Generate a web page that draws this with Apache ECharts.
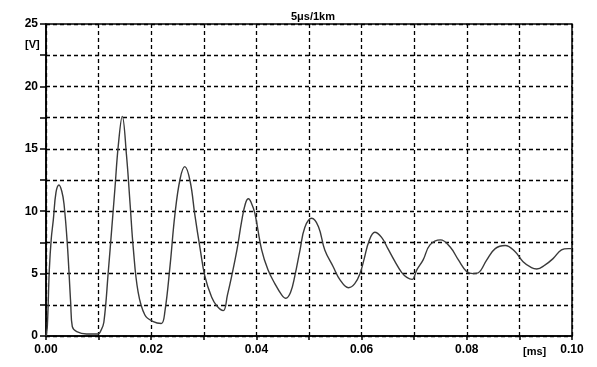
<!DOCTYPE html>
<html>
<head>
<meta charset="utf-8">
<script src="https://cdn.jsdelivr.net/npm/echarts@6/dist/echarts.min.js"></script>
<style>
html,body{margin:0;padding:0;background:#fff;}
#chart{width:597px;height:367px;}
</style>
</head>
<body>
<div id="chart"></div>
<script>
// time in microseconds (converted to ms for the axis)
var timeUs = [0,0.25,0.63,1.0,1.39,1.9,2.47,3.0,3.42,4.05,4.7,5.0,5.84,7.7,9.9,10.4,11.0,11.85,12.5,13.1,13.75,14.5,
  15.3,16.0,16.6,17.5,18.8,20.4,21.9,22.6,23.6,24.5,25.5,26.4,27.4,28.3,29.3,30.2,31.5,32.5,33.7,34.5,35.3,36.3,37.2,37.9,38.5,
  39.0,39.7,41.0,42.2,43.5,44.8,45.6,46.5,47.3,48.3,49.2,50.5,51.8,53.0,54.6,55.9,57.5,58.7,59.7,60.5,61.4,62.5,63.8,65.0,66.3,
  67.6,68.6,69.6,70.5,71.7,73.0,75.0,76.8,78.4,80.0,81.2,82.2,83.8,85.4,87.3,89.2,90.7,92.3,93.3,94.9,96.4,98.0,99.3,100];
var voltage = [0,0.75,5.3,7.8,9.3,11.5,12.1,11.6,10.6,7.4,2.6,0.75,0.35,0.16,0.16,0.4,1.1,5.2,8.6,11.8,15.3,17.6,
  14.5,10.5,7.0,3.55,1.68,1.15,1.0,1.95,5.7,9.7,12.6,13.57,12.4,9.7,7.0,4.8,3.1,2.4,2.03,3.3,4.8,6.9,9.2,10.6,11.0,
  10.7,9.85,6.9,5.3,4.2,3.3,3.02,3.5,4.8,6.9,8.7,9.43,8.76,6.9,5.55,4.5,3.87,4.2,5.0,6.2,7.6,8.31,7.9,7.0,6.0,
  5.1,4.7,4.54,5.3,6.1,7.3,7.7,7.15,6.1,5.15,5.0,5.07,6.1,7.0,7.25,6.75,5.95,5.47,5.37,5.7,6.2,6.9,7.0,7.0];
var titleText = '5μs/1km';
var yUnit = '[V]';
var xUnit = '[ms]';

var seriesData = timeUs.map(function(t, i){ return [t/1000, voltage[i]]; });
var font = 'Liberation Sans, Arial, sans-serif';
var chart = echarts.init(document.getElementById('chart'), null, {renderer:'canvas'});
chart.setOption({
  animation:false,
  backgroundColor:'#fff',
  title:{text:titleText, left:308, top:6, textAlign:'center',
    textStyle:{fontFamily:font, fontSize:11, fontWeight:'bold', color:'#000'}},
  grid:{left:46, right:25, top:24, bottom:31, show:true, borderColor:'#000', borderWidth:1.5, backgroundColor:'transparent'},
  xAxis:{type:'value', min:0, max:0.1, interval:0.01,
    axisLine:{show:true, onZero:false, lineStyle:{color:'#000', width:1.5}},
    axisTick:{show:true, length:4, inside:false, lineStyle:{color:'#000', width:1.5}},
    axisLabel:{margin:8, fontFamily:font, fontSize:12, fontWeight:'bold', color:'#000',
      showMaxLabel:true, showMinLabel:true,
      formatter:function(v){ var k=Math.round(v*100); return k%2===0 ? v.toFixed(2) : ''; }},
    splitLine:{show:true, lineStyle:{color:'#000', width:1.3, type:[4,3]}}
  },
  yAxis:{type:'value', min:0, max:25, interval:2.5,
    axisLine:{show:true, lineStyle:{color:'#000', width:1.5}},
    axisTick:{show:true, length:6, lineStyle:{color:'#000', width:1.5}},
    axisLabel:{margin:8, fontFamily:font, fontSize:12, fontWeight:'bold', color:'#000',
      formatter:function(v){ return (Math.round(v*10)%50===0) ? String(v) : ''; }},
    splitLine:{show:true, lineStyle:{color:'#000', width:1.3, type:[4,3]}}
  },
  graphic:[
    {type:'text', left:25, top:39, style:{text:yUnit, fontFamily:font, fontSize:11, fontWeight:'bold', fill:'#000'}},
    {type:'text', left:523, top:346, style:{text:xUnit, fontFamily:font, fontSize:11, fontWeight:'bold', fill:'#000'}}
  ],
  series:[{
    type:'line', data:seriesData, showSymbol:false, smooth:0.4,
    lineStyle:{color:'#3a3a3a', width:1.4}, z:5
  }]
});
</script>
</body>
</html>
